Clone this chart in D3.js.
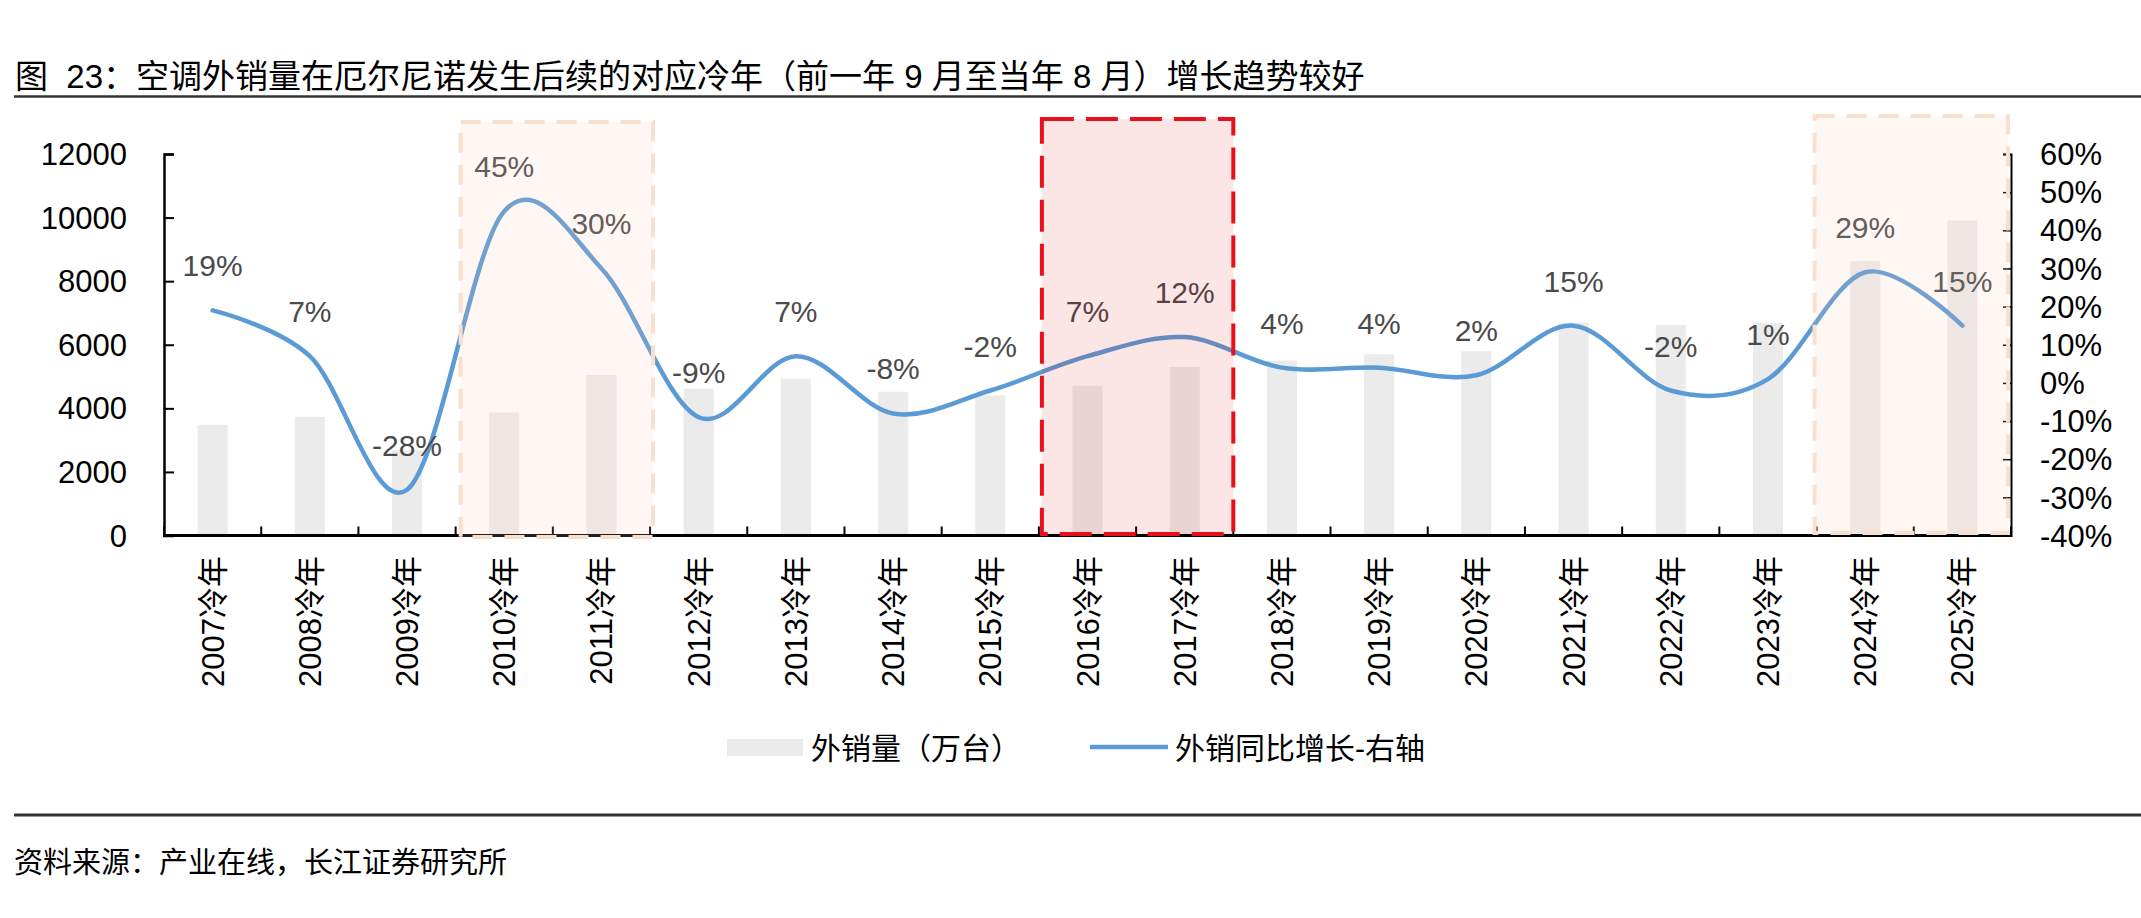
<!DOCTYPE html>
<html>
<head>
<meta charset="utf-8">
<script src="https://cdn.jsdelivr.net/npm/d3@7"></script>
<style>
  body { margin: 0; background: #fff; }
  svg text { font-family: "Liberation Sans", "Noto Sans CJK SC", sans-serif; }
</style>
</head>
<body>
<div id="chart"></div>
<script>
// data
var years = ["2007冷年","2008冷年","2009冷年","2010冷年","2011冷年","2012冷年","2013冷年","2014冷年","2015冷年","2016冷年",
             "2017冷年","2018冷年","2019冷年","2020冷年","2021冷年","2022冷年","2023冷年","2024冷年","2025冷年"];
var exportVol = [3480, 3730, 2680, 3870, 5050, 4620, 4930, 4520, 4410, 4710, 5300, 5500, 5700, 5800, 6700, 6620, 6690, 8630, 9910];
var growth = [19, 7, -28, 45, 30, -9, 7, -8, -2, 7, 12, 4, 4, 2, 15, -2, 1, 29, 15];
var leftTicks = [0, 2000, 4000, 6000, 8000, 10000, 12000];
var rightTicks = [-40, -30, -20, -10, 0, 10, 20, 30, 40, 50, 60];
var highlights = [["2010冷年","2011冷年"], ["2016冷年","2017冷年"], ["2024冷年","2025冷年"]];

var titleText = "图  23：空调外销量在厄尔尼诺发生后续的对应冷年（前一年 9 月至当年 8 月）增长趋势较好";
var sourceText = "资料来源：产业在线，长江证券研究所";
var seriesNames = ["外销量（万台）", "外销同比增长-右轴"];

var W = 2141, H = 918;
// note: "top" is taken by window.top, so plot* names
var plotL = 164, plotR = 2011, plotT = 154, plotB = 535.5;

var svg = d3.select("#chart")
  .append("svg")
  .attr("width", W)
  .attr("height", H);

var x = d3.scaleBand().domain(years).range([plotL, plotR]);
var yL = d3.scaleLinear().domain([0, 12000]).range([plotB, plotT]);
var yR = d3.scaleLinear().domain([-40, 60]).range([plotB, plotT]);
var bw = x.bandwidth();
var barW = bw * 0.31;

// title + rule
svg.append("text")
  .attr("x", 15)
  .attr("y", 88)
  .style("font-size", "33px")
  .style("white-space", "pre")
  .attr("fill", "#000")
  .text(titleText);

svg.append("line")
  .attr("x1", 14).attr("x2", W)
  .attr("y1", 96.5).attr("y2", 96.5)
  .attr("stroke", "#333")
  .attr("stroke-width", 2.5);

// bars
svg.append("g")
  .selectAll("rect")
  .data(exportVol)
  .enter()
  .append("rect")
  .attr("x", function(d, i){ return x(years[i]) + bw/2 - barW/2; })
  .attr("y", function(d){ return yL(d); })
  .attr("width", barW)
  .attr("height", function(d){ return plotB - yL(d); })
  .attr("fill", "#ebebeb");

// axes
var axL = svg.append("g")
  .attr("transform", "translate(" + plotL + ",0)")
  .call(d3.axisRight(yL).tickValues(leftTicks).tickSize(10).tickFormat(""));
axL.select(".domain").attr("stroke-width", 2.5);
axL.selectAll(".tick line").attr("stroke-width", 2);

var axR = svg.append("g")
  .attr("transform", "translate(" + plotR + ",0)")
  .call(d3.axisLeft(yR).tickValues(rightTicks).tickSize(8).tickFormat(""));
axR.select(".domain").attr("stroke-width", 2);
axR.selectAll(".tick line").attr("stroke-width", 1.5);

svg.append("g")
  .selectAll("text")
  .data(leftTicks)
  .enter()
  .append("text")
  .attr("x", 127)
  .attr("y", function(d){ return yL(d); })
  .attr("dy", "0.36em")
  .attr("text-anchor", "end")
  .style("font-size", "31px")
  .text(function(d){ return d; });

svg.append("g")
  .selectAll("text")
  .data(rightTicks)
  .enter()
  .append("text")
  .attr("x", 2040)
  .attr("y", function(d){ return yR(d); })
  .attr("dy", "0.36em")
  .style("font-size", "31px")
  .text(function(d){ return d + "%"; });

// bottom axis, ticks between categories pointing up
var bounds = years.map(function(d){ return x(d); }).concat([plotR]);
svg.append("g")
  .selectAll("line")
  .data(bounds)
  .enter()
  .append("line")
  .attr("x1", function(d){ return d; })
  .attr("x2", function(d){ return d; })
  .attr("y1", plotB)
  .attr("y2", plotB - 9)
  .attr("stroke", "#000")
  .attr("stroke-width", 2);

svg.append("line")
  .attr("x1", plotL - 1).attr("x2", plotR + 1)
  .attr("y1", plotB).attr("y2", plotB)
  .attr("stroke", "#000")
  .attr("stroke-width", 3);

// rotated category labels
svg.append("g")
  .selectAll("text")
  .data(years)
  .enter()
  .append("text")
  .attr("transform", function(d){ return "translate(" + (x(d) + bw/2 + 11) + ",556) rotate(-90)"; })
  .attr("text-anchor", "end")
  .style("font-size", "31px")
  .text(function(d){ return d; });

// growth line (smoothed like excel)
var line = d3.line()
  .x(function(d, i){ return x(years[i]) + bw/2; })
  .y(function(d){ return yR(d); })
  .curve(d3.curveCatmullRom.alpha(0));

svg.append("path")
  .datum(growth)
  .attr("d", line)
  .attr("fill", "none")
  .attr("stroke", "#5b9bd5")
  .attr("stroke-width", 4.5)
  .attr("stroke-linecap", "round");

// data labels
svg.append("g")
  .selectAll("text")
  .data(growth)
  .enter()
  .append("text")
  .attr("x", function(d, i){ return x(years[i]) + bw/2; })
  .attr("y", function(d){ return yR(d) - 34; })
  .attr("text-anchor", "middle")
  .attr("fill", "#4a4a4a")
  .style("font-size", "30px")
  .text(function(d){ return d + "%"; });

// highlight boxes drawn over the chart
var boxStyle = [
  { fill: "rgba(248,203,173,0.15)", stroke: "#fadfcf", dash: "20,12", dx1: 5, dx2: 3, y1: 122, y2: 537 },
  { fill: "rgba(230,0,0,0.1)", stroke: "#e8101a", dash: "32,12", dx1: 3, dx2: 0, y1: 119, y2: 534 },
  { fill: "rgba(248,203,173,0.15)", stroke: "#fadfcf", dash: "20,12", dx1: -2, dx2: -3, y1: 116, y2: 533 }
];

highlights.forEach(function(h, i){
  var s = boxStyle[i];
  var x1 = x(h[0]) + s.dx1;
  var x2 = x(h[1]) + bw + s.dx2;
  svg.append("rect")
    .attr("x", x1)
    .attr("y", s.y1)
    .attr("width", x2 - x1)
    .attr("height", s.y2 - s.y1)
    .attr("fill", s.fill)
    .attr("stroke", s.stroke)
    .attr("stroke-width", 4)
    .attr("stroke-dasharray", s.dash);
});

// legend
var lg = svg.append("g");
lg.append("rect")
  .attr("x", 727).attr("y", 739)
  .attr("width", 76).attr("height", 17)
  .attr("fill", "#ebebeb");
lg.append("text")
  .attr("x", 811).attr("y", 759)
  .style("font-size", "30px")
  .text(seriesNames[0]);
lg.append("line")
  .attr("x1", 1090).attr("x2", 1168)
  .attr("y1", 747).attr("y2", 747)
  .attr("stroke", "#5b9bd5")
  .attr("stroke-width", 4.5);
lg.append("text")
  .attr("x", 1175).attr("y", 759)
  .style("font-size", "30px")
  .text(seriesNames[1]);

// bottom rule + source
svg.append("line")
  .attr("x1", 14).attr("x2", W)
  .attr("y1", 815).attr("y2", 815)
  .attr("stroke", "#333")
  .attr("stroke-width", 3);

svg.append("text")
  .attr("x", 14)
  .attr("y", 873)
  .style("font-size", "29px")
  .text(sourceText);
</script>
</body>
</html>
